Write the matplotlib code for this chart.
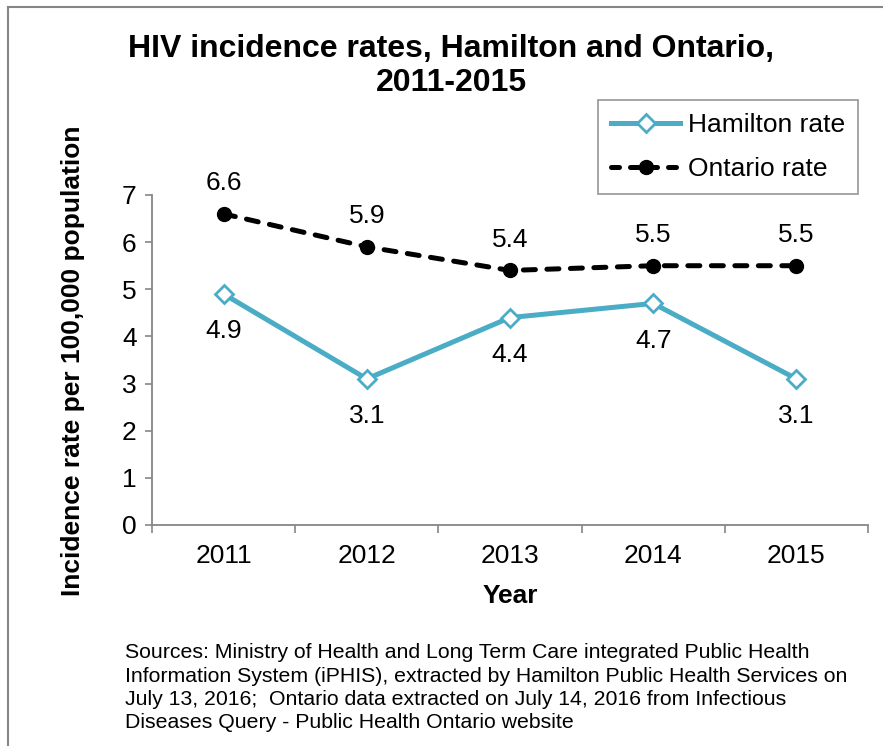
import matplotlib
matplotlib.use('Agg')
import matplotlib.pyplot as plt
from matplotlib.lines import Line2D

plt.rcParams['font.family'] = ['Liberation Sans', 'DejaVu Sans']

# data
years = ['2011', '2012', '2013', '2014', '2015']
hamilton = [4.9, 3.1, 4.4, 4.7, 3.1]
ontario = [6.6, 5.9, 5.4, 5.5, 5.5]
y_ticks = [0, 1, 2, 3, 4, 5, 6, 7]

blue = '#4BACC6'
grey = '#868686'
fs = 19

fig = plt.figure(figsize=(8.83, 7.46), dpi=100)
ax = fig.add_axes([152 / 883, 1 - 525 / 746, (868 - 152) / 883, (525 - 195) / 746])

x = list(range(len(years)))
ax.plot(x, ontario, color='black', lw=3.6, ls=(0, (2.4, 2.3)), dash_capstyle='round',
        marker='o', ms=10, mfc='black', mec='black', label='Ontario rate', zorder=3)
ax.plot(x, hamilton, color=blue, lw=3.6, marker='D', ms=9.5, mfc='white',
        mec=blue, mew=2, label='Hamilton rate', zorder=4)

for xi, v in zip(x, ontario):
    ax.annotate(f'{v}', (xi, v), xytext=(0, 22), textcoords='offset points',
                ha='center', va='center', fontsize=fs)
for xi, v in zip(x, hamilton):
    ax.annotate(f'{v}', (xi, v), xytext=(0, -27), textcoords='offset points',
                ha='center', va='center', fontsize=fs)

ax.set_xlim(-0.5, len(years) - 0.5)
ax.set_ylim(0, 7)
ax.set_yticks(y_ticks)
ax.set_xticks(x)
ax.set_xticklabels(years)
ax.set_xticks([i - 0.5 for i in range(len(years) + 1)], minor=True)
ax.tick_params(axis='x', which='major', length=0, pad=14, labelsize=fs)
ax.tick_params(axis='x', which='minor', length=6, width=1.2, color=grey, direction='out')
ax.tick_params(axis='y', length=5, width=1.2, color=grey, pad=6, labelsize=fs)

for s in ['top', 'right']:
    ax.spines[s].set_visible(False)
for s in ['left', 'bottom']:
    ax.spines[s].set_color(grey)
    ax.spines[s].set_linewidth(1.3)

# legend (Hamilton first)
handles = [
    Line2D([], [], color=blue, lw=3.6, marker='D', ms=9.5, mfc='white', mec=blue, mew=2),
    Line2D([], [], color='black', lw=3.6, ls=(0, (1.6, 2.2)), dash_capstyle='round',
           marker='o', ms=10, mfc='black'),
]
leg = fig.legend(handles, ['Hamilton rate', 'Ontario rate'], loc='upper left',
                 bbox_to_anchor=(598 / 883, 1 - 100 / 746), fontsize=fs,
                 frameon=True, fancybox=False, edgecolor=grey, handlelength=2.6,
                 handletextpad=0.3, labelspacing=0.75, borderpad=0.5, borderaxespad=0)
leg.get_frame().set_linewidth(1.3)

fig.text(451 / 883, 1 - 66 / 746, 'HIV incidence rates, Hamilton and Ontario,\n2011-2015',
         ha='center', va='center', fontsize=23, fontweight='bold', linespacing=1.15)
fig.text(73 / 883, 1 - 361 / 746, 'Incidence rate per 100,000 population', rotation=90,
         ha='center', va='center', fontsize=fs, fontweight='bold')
fig.text(510 / 883, 1 - 596 / 746, 'Year', ha='center', va='center', fontsize=fs,
         fontweight='bold')

fig.text(125 / 883, 1 - 643 / 746,
         'Sources: Ministry of Health and Long Term Care integrated Public Health\n'
         'Information System (iPHIS), extracted by Hamilton Public Health Services on\n'
         'July 13, 2016;  Ontario data extracted on July 14, 2016 from Infectious\n'
         'Diseases Query - Public Health Ontario website',
         ha='left', va='top', fontsize=15.3, linespacing=1.3)

# outer frame (top and left edges visible)
fig.add_artist(Line2D([8 / 883, 8 / 883], [0, 1 - 7 / 746], transform=fig.transFigure,
                      color=grey, lw=1.5))
fig.add_artist(Line2D([8 / 883, 1], [1 - 7 / 746, 1 - 7 / 746], transform=fig.transFigure,
                      color=grey, lw=1.5))

fig.savefig('out.png', dpi=100)
